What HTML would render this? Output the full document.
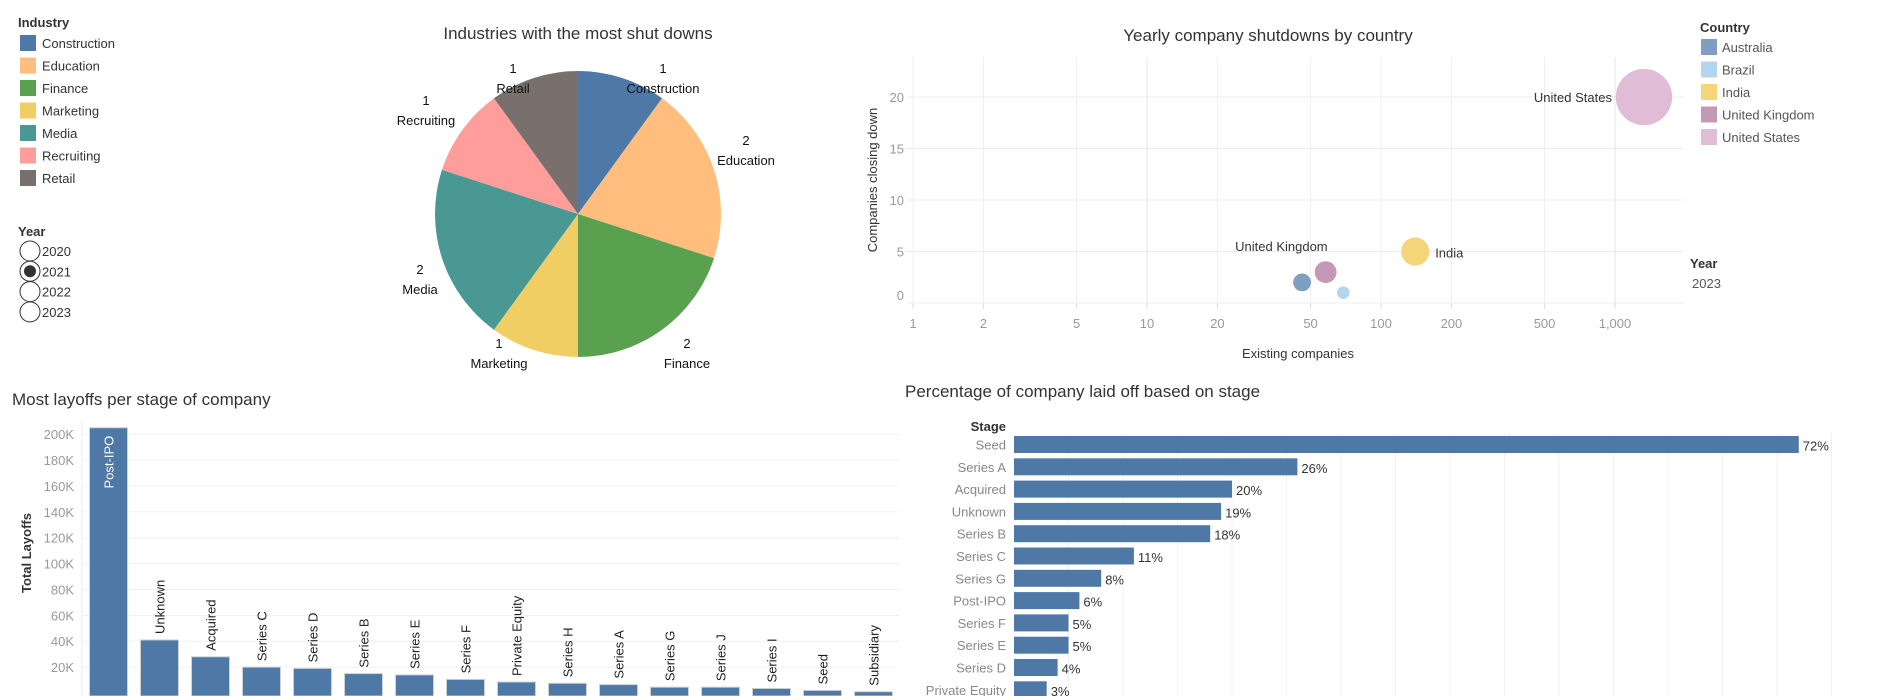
<!DOCTYPE html>
<html><head><meta charset="utf-8">
<style>
html,body{margin:0;padding:0;background:#fff;}
svg{display:block;font-family:"Liberation Sans",sans-serif;}
</style></head>
<body>
<svg id="root" width="1881" height="696" viewBox="0 0 1881 696" xmlns="http://www.w3.org/2000/svg">
<g id="legend"></g>
<g id="pie"></g>
<g id="scatter"></g>
<g id="bars"></g>
<g id="hbars"></g>
</svg>
<script>
const industries=["Construction","Education","Finance","Marketing","Media","Recruiting","Retail"];
const industryCounts=[1,2,2,1,2,1,1];
const industryColors=["#4e79a7","#ffbe7d","#59a14f","#f1ce63","#499894","#ff9d9a","#79706e"];
const years=["2020","2021","2022","2023"];
const countries=["Australia","Brazil","India","United Kingdom","United States"];
const existing=[46,69,140,58,1330];
const closing=[2,1,5,3,20];
const countryColors=["#7f9ec0","#b5d4ee","#f5d57a","#c499b5","#e0bcd6"];
const xTicks=[1,2,5,10,20,50,100,200,500,1000];
const xTickLabels=["1","2","5","10","20","50","100","200","500","1,000"];
const yTicks=[0,5,10,15,20];
const stages=["Post-IPO","Unknown","Acquired","Series C","Series D","Series B","Series E","Series F","Private Equity","Series H","Series A","Series G","Series J","Series I","Seed","Subsidiary"];
const layoffsK=[205,41,28,20,19,15,14,10.5,8.5,7.5,6.5,4.5,4.5,3.5,2,1];
const layTicks=[20,40,60,80,100,120,140,160,180,200];
const pctStages=["Seed","Series A","Acquired","Unknown","Series B","Series C","Series G","Post-IPO","Series F","Series E","Series D","Private Equity"];
const pctValues=[72,26,20,19,18,11,8,6,5,5,4,3];

const NS="http://www.w3.org/2000/svg";
function mk(parent,tag,attrs,text){const e=document.createElementNS(NS,tag);for(const k in attrs)e.setAttribute(k,attrs[k]);if(text!==undefined)e.textContent=text;parent.appendChild(e);return e;}

// ---- Legend ----
const L=document.getElementById('legend');
let t=mk(L,'text',{x:18,y:27,'font-size':13,'font-weight':'bold',fill:'#333'},'Industry');


industries.forEach((n,i)=>{
  const y=35+i*22.5;
  const g=mk(L,'g',{});
  
  
  mk(g,'rect',{x:20,y:y,width:16,height:16,fill:industryColors[i]});
  mk(g,'text',{x:42,y:y+13,'font-size':13,fill:'#333'},n);
});
t=mk(L,'text',{x:18,y:236,'font-size':13,'font-weight':'bold',fill:'#333'},'Year');


years.forEach((y,i)=>{
  const cy=251+i*20.3;
  const g=mk(L,'g',{});
  
  
  mk(g,'circle',{cx:30,cy:cy,r:10,fill:'#fff',stroke:'#333','stroke-width':1});
  if(y==="2021")mk(g,'circle',{cx:30,cy:cy,r:6,fill:'#333'});
  mk(g,'text',{x:42,y:cy+5,'font-size':13,fill:'#333'},y);
});

// ---- Pie ----
const P=document.getElementById('pie');
t=mk(P,'text',{x:578,y:39,'font-size':17,fill:'#333','text-anchor':'middle'},'Industries with the most shut downs');


const cx=578,cy=214,R=143;
// label layout offsets relative to pie centre (layout only, not data)
const labelDX=[85,168,109,-79,-158,-152,-65];
const labelDY=[-136,-64,139,139,65,-104,-136];
const total=industryCounts.reduce((a,b)=>a+b,0);
let ang=0;
industryCounts.forEach((v,i)=>{
  const a0=ang, a1=ang+v/total*2*Math.PI; ang=a1;
  const x0=cx+R*Math.sin(a0),y0=cy-R*Math.cos(a0),x1=cx+R*Math.sin(a1),y1=cy-R*Math.cos(a1);
  const p=mk(P,'path',{d:`M${cx},${cy}L${x0},${y0}A${R},${R} 0 ${a1-a0>Math.PI?1:0} 1 ${x1},${y1}Z`,fill:industryColors[i]});
  
  
  const lx=cx+labelDX[i], ly=cy+labelDY[i];
  const lt=mk(P,'text',{x:lx,y:ly-5,'font-size':13,fill:'#111','text-anchor':'middle'},String(v));
  
  
  const ln=mk(P,'text',{x:lx,y:ly+15,'font-size':13,fill:'#111','text-anchor':'middle'},industries[i]);
  
  
});

// ---- Scatter ----
const S=document.getElementById('scatter');
const sx=v=>913+234*Math.log10(v), sy=v=>303-10.3*v;
t=mk(S,'text',{x:1268,y:41,'font-size':17,fill:'#333','text-anchor':'middle'},'Yearly company shutdowns by country');


yTicks.forEach(v=>{
  mk(S,'line',{x1:907,x2:1683,y1:sy(v),y2:sy(v),stroke:'#ececec'});
  const tl=mk(S,'text',{x:904,y:v===0?300:sy(v)+5,'font-size':13,fill:'#999','text-anchor':'end'},String(v));
  
  
});
xTicks.forEach((v,i)=>{
  mk(S,'line',{x1:sx(v),x2:sx(v),y1:57,y2:304,stroke:(v===10||v===1000)?'#e4e4e4':'#f0f0f0'});
  mk(S,'line',{x1:sx(v),x2:sx(v),y1:304,y2:309,stroke:'#ddd'});
  const tl=mk(S,'text',{x:sx(v),y:328,'font-size':13,fill:'#999','text-anchor':'middle'},xTickLabels[i]);
  
  
});
t=mk(S,'text',{x:1298,y:358,'font-size':13,fill:'#333','text-anchor':'middle'},'Existing companies');


t=mk(S,'text',{x:0,y:0,'font-size':13,fill:'#333','text-anchor':'middle',transform:'translate(877,180) rotate(-90)'},'Companies closing down');


countries.forEach((c,i)=>{
  const b=mk(S,'circle',{cx:sx(existing[i]),cy:sy(closing[i]),r:6.3*Math.sqrt(closing[i]),fill:countryColors[i]});
  
  
});
const lab=(txt,x,y,anchor)=>{const e=mk(S,'text',{x:x,y:y,'font-size':13,fill:'#333','text-anchor':anchor},txt);};
lab('United States',sx(existing[4])-32,sy(closing[4])+5,'end');
lab('India',sx(existing[2])+20,sy(closing[2])+6,'start');
lab('United Kingdom',sx(existing[3])+2,sy(closing[3])-21,'end');
t=mk(S,'text',{x:1700,y:32,'font-size':13,'font-weight':'bold',fill:'#333'},'Country');


countries.forEach((c,i)=>{
  const y=39+i*22.5;
  const g=mk(S,'g',{});
  
  
  mk(g,'rect',{x:1701,y:y,width:16,height:16,fill:countryColors[i]});
  mk(g,'text',{x:1722,y:y+13,'font-size':13,fill:'#555'},c);
});
t=mk(S,'text',{x:1690,y:268,'font-size':13,'font-weight':'bold',fill:'#333'},'Year');


t=mk(S,'text',{x:1692,y:288,'font-size':13,fill:'#555'},'2023');



// ---- Layoffs bar chart ----
const B=document.getElementById('bars');
const by=v=>693-1.294*v, bx=i=>108.5+51*i;
t=mk(B,'text',{x:12,y:405,'font-size':17,fill:'#333'},'Most layoffs per stage of company');


mk(B,'line',{x1:82,x2:82,y1:420,y2:696,stroke:'#eee'});
layTicks.forEach(v=>{
  mk(B,'line',{x1:82,x2:899,y1:by(v),y2:by(v),stroke:'#f0f0f0'});
  const tl=mk(B,'text',{x:74,y:by(v)+5,'font-size':13,fill:'#999','text-anchor':'end'},v+'K');
  
  
});
t=mk(B,'text',{x:0,y:0,'font-size':13,'font-weight':'bold',fill:'#333','text-anchor':'middle',transform:'translate(31,553) rotate(-90)'},'Total Layoffs');


stages.forEach((s,i)=>{
  const r=mk(B,'rect',{x:bx(i)-19,y:by(layoffsK[i]),width:38,height:693-by(layoffsK[i])+3,fill:'#4e79a7',stroke:'#d0d0d0','stroke-width':1});
  
  
  const inside=i===0;
  const ty=inside?by(layoffsK[i])+8:by(layoffsK[i])-6;
  const tl=mk(B,'text',{x:0,y:0,'font-size':13,fill:inside?'#fff':'#222','text-anchor':inside?'end':'start',transform:`translate(${bx(i)+5},${ty}) rotate(-90)`},s);
  
  
});

// ---- Percentage horizontal bars ----
const H=document.getElementById('hbars');
const hx=v=>1014+10.9*v, hy=i=>444.5+22.3*i;
t=mk(H,'text',{x:905,y:397,'font-size':17,fill:'#333'},'Percentage of company laid off based on stage');


for(let g=5;g<=75;g+=5){mk(H,'line',{x1:hx(g),x2:hx(g),y1:434,y2:696,stroke:'#f0f0f0'});}
t=mk(H,'text',{x:1006,y:431,'font-size':13,'font-weight':'bold',fill:'#333','text-anchor':'end'},'Stage');


pctStages.forEach((s,i)=>{
  const r=mk(H,'rect',{x:1014,y:hy(i)-8.5,width:hx(pctValues[i])-1014,height:17,fill:'#4e79a7'});
  
  
  const sl=mk(H,'text',{x:1006,y:hy(i)+5,'font-size':13,fill:'#888','text-anchor':'end'},s);
  
  
  const vl=mk(H,'text',{x:hx(pctValues[i])+4,y:hy(i)+6,'font-size':13,fill:'#333'},pctValues[i]+'%');
  
  
});
</script>
</body></html>
